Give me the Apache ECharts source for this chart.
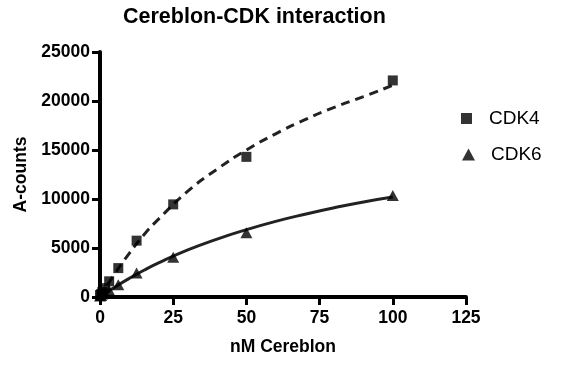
<!DOCTYPE html>
<html>
<head>
<meta charset="utf-8">
<script src="https://cdn.jsdelivr.net/npm/echarts@6/dist/echarts.min.js"></script>
<style>html,body{margin:0;padding:0;background:#fff}#c{width:567px;height:374px}</style>
</head>
<body>
<div id="c"></div>
<script>
// Measured points
const conc = [0, 0.39, 0.78, 1.56, 3.125, 6.25, 12.5, 25, 50, 100];
const cdk4 = [200, 300, 500, 900, 1600, 2950, 5750, 9450, 14300, 22100];
const cdk6 = [100, 150, 300, 500, 700, 1250, 2450, 4050, 6550, 10350];
// Fitted curves
const curveX = [0, 2, 5, 10, 15, 20, 30, 40, 50, 60, 70, 80, 90, 100];
const curve4 = [0, 960, 2350, 4450, 6350, 7950, 10800, 13050, 15000, 16650, 18100, 19350, 20450, 21600];
const curve6 = [0, 415, 1000, 1900, 2730, 3480, 4800, 5910, 6870, 7720, 8450, 9110, 9700, 10200];
const xTicks = [0, 25, 50, 75, 100, 125];
const yTicks = [0, 5000, 10000, 15000, 20000, 25000];

const pair = (xs, ys) => xs.map((x, i) => [x, ys[i]]);
const chart = echarts.init(document.getElementById('c'), null, {renderer: 'canvas'});
const font = 'Liberation Sans, Arial, sans-serif';
const labelStyle = {color: '#000', fontFamily: font, fontWeight: 'bold', fontSize: 17.5, formatter: v => String(v)};
const axisCommon = {
  axisLine: {show: true, onZero: false, lineStyle: {color: '#000', width: 4}},
  axisTick: {show: true, inside: false, length: 8, lineStyle: {color: '#000', width: 3}},
  splitLine: {show: false}
};
chart.setOption({
  animation: false,
  backgroundColor: '#fff',
  title: {
    text: 'Cereblon-CDK interaction',
    left: 118, top: 1,
    textStyle: {fontFamily: font, fontWeight: 'bold', fontSize: 21.5, color: '#000'}
  },
  grid: {left: 100, right: 101, top: 52, bottom: 77, containLabel: false},
  legend: [
    {data: [{name: 'CDK4', icon: 'rect'}], left: 456, top: 104, orient: 'vertical',
     itemWidth: 11, itemHeight: 11,
     textStyle: {fontFamily: font, fontSize: 19, color: '#000', padding: [0, 0, 0, 12]}},
    {data: [{name: 'CDK6', icon: 'triangle'}], left: 457, top: 140, orient: 'vertical',
     itemWidth: 13, itemHeight: 12,
     textStyle: {fontFamily: font, fontSize: 19, color: '#000', padding: [0, 0, 0, 11]}}
  ],
  xAxis: Object.assign({
    type: 'value', min: xTicks[0], max: xTicks[xTicks.length - 1], interval: 25,
    name: 'nM Cereblon', nameLocation: 'middle', nameGap: 41,
    nameTextStyle: {fontFamily: font, fontWeight: 'bold', fontSize: 17.5, color: '#000'},
    axisLabel: Object.assign({}, labelStyle, {margin: 12})
  }, axisCommon),
  yAxis: Object.assign({
    type: 'value', min: yTicks[0], max: yTicks[yTicks.length - 1], interval: 5000,
    name: 'A-counts', nameLocation: 'middle', nameGap: 67,
    nameTextStyle: {fontFamily: font, fontWeight: 'bold', fontSize: 17.5, color: '#000'},
    axisLabel: Object.assign({}, labelStyle, {margin: 10})
  }, axisCommon),
  series: [
    {name: 'fit4', type: 'line', data: pair(curveX, curve4), smooth: true, showSymbol: false,
     lineStyle: {color: '#222', width: 3, type: [9, 6]}, z: 2},
    {name: 'fit6', type: 'line', data: pair(curveX, curve6), smooth: true, showSymbol: false,
     lineStyle: {color: '#222', width: 3}, z: 2},
    {name: 'CDK4', type: 'scatter', data: pair(conc, cdk4), symbol: 'rect', symbolSize: 10,
     itemStyle: {color: '#000'}, z: 3},
    {name: 'CDK6', type: 'scatter', data: pair(conc, cdk6), symbol: 'triangle', symbolSize: [12, 11],
     itemStyle: {color: '#000'}, z: 3}
  ]
});
</script>
</body>
</html>
